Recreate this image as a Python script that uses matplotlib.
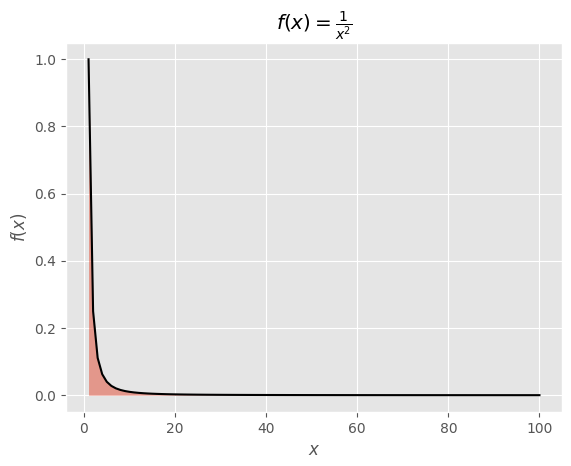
import matplotlib.pyplot as plt

plt.style.use('ggplot')

# x values 1..100 and f(x)
x = list(range(1, 101))
y = [1.0, 0.25, 0.1111, 0.0625, 0.04, 0.02778, 0.02041, 0.01563, 0.01235, 0.01,
     0.00826, 0.00694, 0.00592, 0.0051, 0.00444, 0.00391, 0.00346, 0.00309, 0.00277, 0.0025,
     0.00227, 0.00207, 0.00189, 0.00174, 0.0016, 0.00148, 0.00137, 0.00128, 0.00119, 0.00111,
     0.00104, 0.00098, 0.00092, 0.00087, 0.00082, 0.00077, 0.00073, 0.00069, 0.00066, 0.00063,
     0.00059, 0.00057, 0.00054, 0.00052, 0.00049, 0.00047, 0.00045, 0.00043, 0.00042, 0.0004,
     0.00038, 0.00037, 0.00036, 0.00034, 0.00033, 0.00032, 0.00031, 0.0003, 0.00029, 0.00028,
     0.00027, 0.00026, 0.00025, 0.00024, 0.00024, 0.00023, 0.00022, 0.00022, 0.00021, 0.0002,
     0.0002, 0.00019, 0.00019, 0.00018, 0.00018, 0.00017, 0.00017, 0.00016, 0.00016, 0.00016,
     0.00015, 0.00015, 0.00015, 0.00014, 0.00014, 0.00014, 0.00013, 0.00013, 0.00013, 0.00012,
     0.00012, 0.00012, 0.00012, 0.00011, 0.00011, 0.00011, 0.00011, 0.0001, 0.0001, 0.0001]

fig = plt.figure(figsize=(5.71, 4.66), dpi=100)
ax = fig.add_axes([66 / 571, 54 / 466, 496 / 571, 369.5 / 466])

ax.fill_between(x, y, color='#E24A33', alpha=0.5, linewidth=0)
ax.plot(x, y, color='black')

ax.set_title(r'$f(x) = \frac{1}{x^2}$')
ax.set_xlabel('$x$')
ax.set_ylabel('$f(x)$')

plt.savefig('out.png')
